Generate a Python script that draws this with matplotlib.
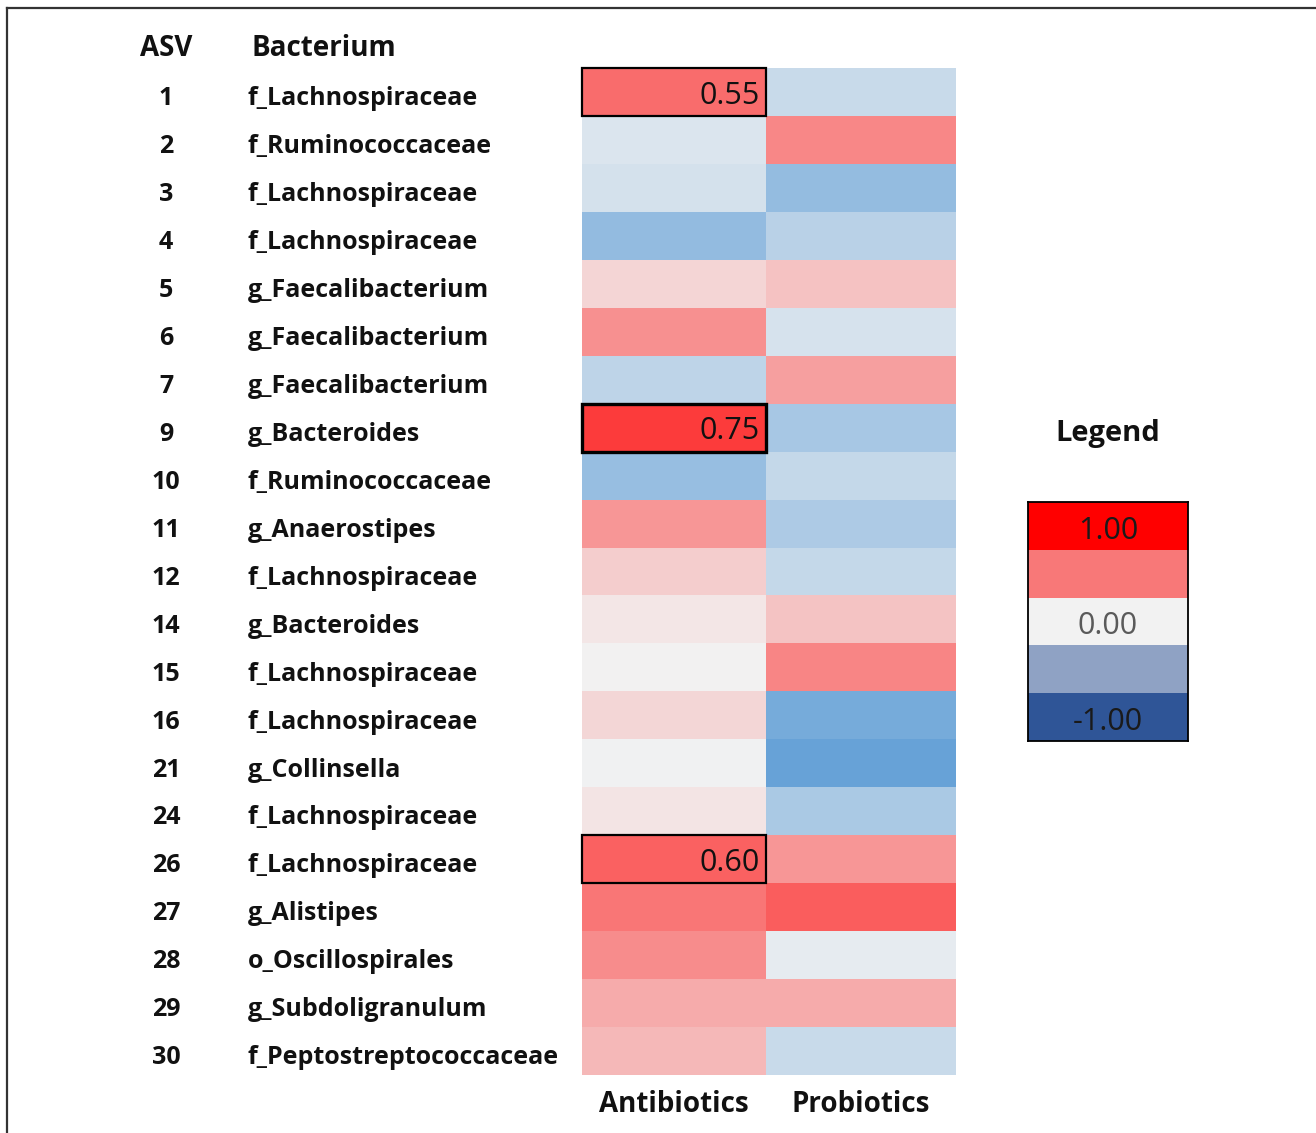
import numpy as np
import matplotlib
matplotlib.use("Agg")
import matplotlib.pyplot as plt
from matplotlib.colors import LinearSegmentedColormap, Normalize, ListedColormap
from matplotlib.patches import Rectangle
from matplotlib.lines import Line2D
from matplotlib.transforms import blended_transform_factory

plt.rcParams["font.family"] = ["Open Sans", "DejaVu Sans"]

# --- data ---
asv = ["1", "2", "3", "4", "5", "6", "7", "9", "10", "11", "12",
       "14", "15", "16", "21", "24", "26", "27", "28", "29", "30"]
bacteria = ["f_Lachnospiraceae", "f_Ruminococcaceae", "f_Lachnospiraceae",
            "f_Lachnospiraceae", "g_Faecalibacterium", "g_Faecalibacterium",
            "g_Faecalibacterium", "g_Bacteroides", "f_Ruminococcaceae",
            "g_Anaerostipes", "f_Lachnospiraceae", "g_Bacteroides",
            "f_Lachnospiraceae", "f_Lachnospiraceae", "g_Collinsella",
            "f_Lachnospiraceae", "f_Lachnospiraceae", "g_Alistipes",
            "o_Oscillospirales", "g_Subdoligranulum", "f_Peptostreptococcaceae"]
groups = ["Antibiotics", "Probiotics"]
antibiotics = [0.55, -0.15, -0.20, -0.63, 0.12, 0.40, -0.34, 0.75, -0.60, 0.38, 0.15,
               0.05, 0.00, 0.11, -0.01, 0.06, 0.60, 0.51, 0.42, 0.29, 0.24]
probiotics = [-0.28, 0.44, -0.62, -0.38, 0.20, -0.18, 0.34, -0.50, -0.30, -0.46, -0.30,
              0.19, 0.45, -0.82, -0.92, -0.47, 0.38, 0.61, -0.08, 0.29, -0.28]
# (group index, row index) of the highlighted cells
highlighted = [(0, 0), (0, 7), (0, 16)]
legend_values = [1.0, 0.5, 0.0, -0.5, -1.0]
legend_labels = ["1.00", "", "0.00", "", "-1.00"]
legend_colors = ["#FF0000", "#F87878", "#F2F2F2", "#8FA2C4", "#2F5597"]
legend_text_colors = ["#1a1a1a", "#1a1a1a", "#5a5a5a", "#1a1a1a", "#1a1a1a"]

W, H = 1316, 1133
fig = plt.figure(figsize=(W / 100, H / 100), dpi=100)


def frac(x0, y0, x1, y1):
    # pixel box (top-left origin) -> figure fraction rect
    return [x0 / W, 1 - y1 / H, (x1 - x0) / W, (y1 - y0) / H]


# heatmap, column edges in pixels
col_edges = np.array([582, 766, 956])
cmap = LinearSegmentedColormap.from_list("rwb", ["#5B9BD5", "#F2F2F2", "#FF0000"])
norm = Normalize(vmin=-1, vmax=1)
vals = np.column_stack([antibiotics, probiotics])
n = len(asv)

ax = fig.add_axes(frac(582, 68, 956, 1075))
ax.pcolormesh(col_edges, np.arange(n + 1), vals, cmap=cmap, norm=norm,
              edgecolors="none")
ax.set_xlim(col_edges[0], col_edges[-1])
ax.set_ylim(n, 0)
ax.axis("off")

for g, r in highlighted:
    v = vals[r, g]
    lw = 2.4 if v >= 0.7 else 1.6
    x0, x1 = col_edges[g], col_edges[g + 1]
    ax.add_patch(Rectangle((x0, r), x1 - x0, 1, fill=False, edgecolor="black", lw=lw,
                           clip_on=False, zorder=3))
    ax.text(x1 - 6, r + 0.58, f"{v:.2f}", ha="right", va="center",
            fontsize=22, color="#111111", zorder=4)

# row labels
tr = blended_transform_factory(fig.transFigure, ax.transData)
for i in range(n):
    fig.text(166 / W, i + 0.64, asv[i], transform=tr, ha="center", va="center",
             fontsize=18, fontweight="bold", color="#111111")
    fig.text(248 / W, i + 0.64, bacteria[i], transform=tr, ha="left", va="center",
             fontsize=18, fontweight="bold", color="#111111")

fig.text(166 / W, 1 - 49 / H, "ASV", ha="center", va="center",
         fontsize=20, fontweight="bold", color="#111111")
fig.text(252 / W, 1 - 49 / H, "Bacterium", ha="left", va="center",
         fontsize=20, fontweight="bold", color="#111111")

# column labels
trx = blended_transform_factory(ax.transData, fig.transFigure)
for j, g in enumerate(groups):
    fig.text((col_edges[j] + col_edges[j + 1]) / 2, 1 - 1105 / H, g, transform=trx,
             ha="center", va="center", fontsize=20, fontweight="bold", color="#111111")

# legend block
fig.text(1108 / W, 1 - 434 / H, "Legend", ha="center", va="center",
         fontsize=21, fontweight="bold", color="#111111")
lax = fig.add_axes(frac(1028, 502, 1188, 741))
lax.imshow(np.arange(len(legend_values)).reshape(-1, 1),
           cmap=ListedColormap(legend_colors), aspect="auto",
           extent=(0, 1, len(legend_values), 0), interpolation="nearest")
for k, lab in enumerate(legend_labels):
    if lab:
        lax.text(0.5, k + 0.6, lab, ha="center", va="center", fontsize=22,
                 color=legend_text_colors[k])
lax.set_xlim(0, 1)
lax.set_ylim(len(legend_values), 0)
lax.set_xticks([])
lax.set_yticks([])
for s in lax.spines.values():
    s.set_linewidth(1.3)
    s.set_color("black")

# outer frame (top and left edges)
fig.add_artist(Line2D([7 / W, 1], [1 - 8 / H, 1 - 8 / H], color="#333333", lw=1.6))
fig.add_artist(Line2D([7 / W, 7 / W], [0, 1 - 8 / H], color="#333333", lw=1.6))

fig.savefig("out.png", dpi=100, facecolor="white")
